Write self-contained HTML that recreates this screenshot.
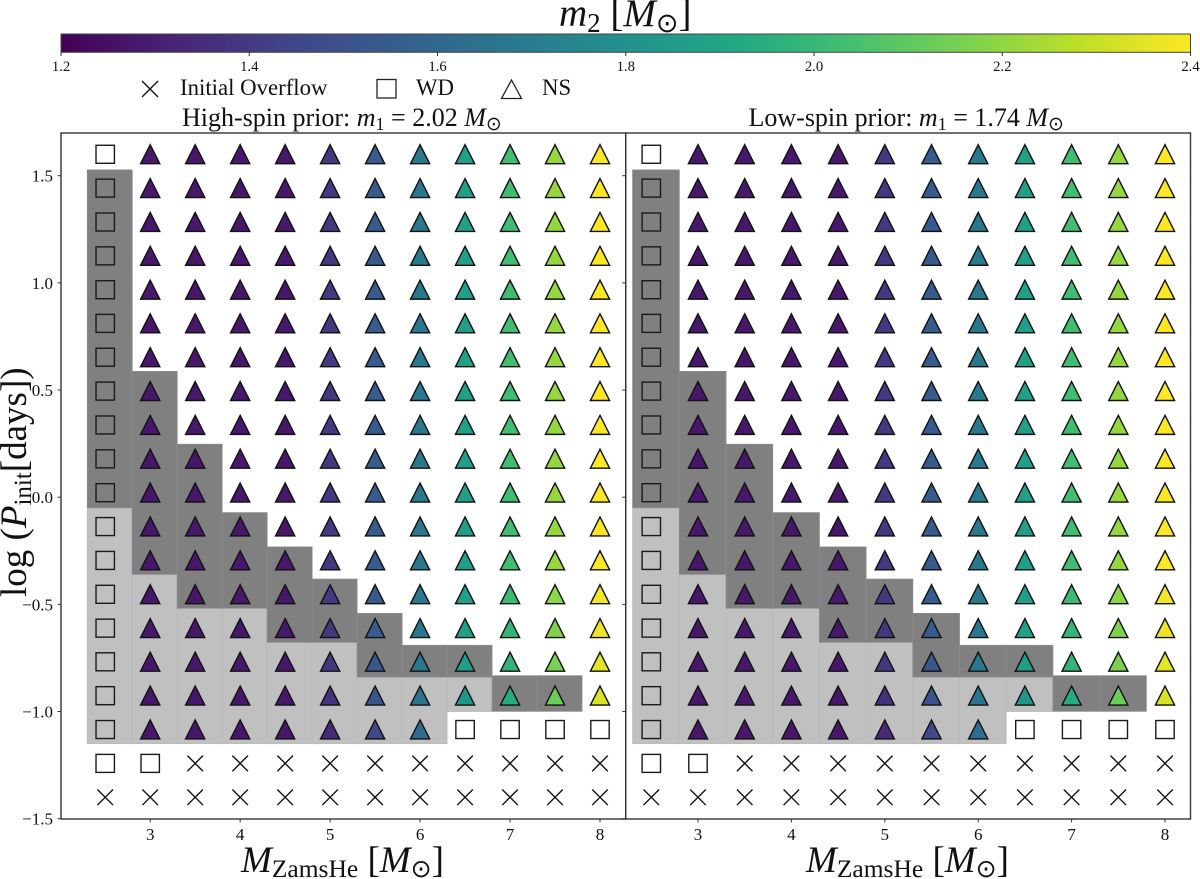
<!DOCTYPE html>
<html lang="en">
<head>
<meta charset="utf-8">
<title>Compact object outcomes</title>
<style>
html,body{margin:0;padding:0;background:#fff;width:1200px;height:879px;overflow:hidden}
svg{display:block}
text{font-family:"Liberation Serif","DejaVu Serif",serif;fill:#111}
.odot{font-family:"DejaVu Sans",sans-serif;font-style:normal}
</style>
</head>
<body>
<svg id="chart" width="1200" height="879" viewBox="0 0 1200 879" xmlns="http://www.w3.org/2000/svg">
  <defs>
    <linearGradient id="viridis" x1="0" x2="1" y1="0" y2="0"></linearGradient>
  </defs>
  <g id="colorbar">
    <rect x="61" y="34" width="1129.5" height="18.3" fill="url(#viridis)" stroke="#444" stroke-width="1"/>
  </g>
  <text x="559" y="26" font-size="39"><tspan font-style="italic">m</tspan><tspan font-size="27" dy="6">2</tspan><tspan dy="-6"> [</tspan><tspan font-style="italic">M</tspan><tspan class="odot" font-size="27" dy="6">⊙</tspan><tspan dy="-6">]</tspan></text>

  <g>
    <path d="M142 81 L158 97 M158 81 L142 97" stroke="#111" stroke-width="1.4" fill="none"/>
    <text x="180" y="95" font-size="22.8">Initial Overflow</text>
    <rect x="377" y="79.5" width="19" height="18.5" fill="none" stroke="#222" stroke-width="1.3"/>
    <text x="416" y="95" font-size="22.8">WD</text>
    <path d="M511.5 80 L521.5 98.5 L501.5 98.5 Z" fill="none" stroke="#222" stroke-width="1.3"/>
    <text x="542" y="95" font-size="22.8">NS</text>
  </g>

  <text x="182" y="126" font-size="26">High-spin prior: <tspan font-style="italic">m</tspan><tspan font-size="18" dy="4">1</tspan><tspan dy="-4"> = 2.02 </tspan><tspan font-style="italic">M</tspan><tspan class="odot" font-size="19" dy="4">⊙</tspan></text>
  <text x="748.5" y="126" font-size="26">Low-spin prior: <tspan font-style="italic">m</tspan><tspan font-size="18" dy="4">1</tspan><tspan dy="-4"> = 1.74 </tspan><tspan font-style="italic">M</tspan><tspan class="odot" font-size="19" dy="4">⊙</tspan></text>

  <g id="panel-left"></g>
  <g id="panel-right"></g>

  <text transform="translate(26,597) rotate(-90)" font-size="37">log (<tspan font-style="italic">P</tspan><tspan font-size="25" dy="5">init</tspan><tspan dy="-5">[days])</tspan></text>
  <text x="241" y="872" font-size="37"><tspan font-style="italic">M</tspan><tspan font-size="25.5" dy="5">ZamsHe</tspan><tspan dy="-5"> [</tspan><tspan font-style="italic">M</tspan><tspan class="odot" font-size="25" dy="5">⊙</tspan><tspan dy="-5">]</tspan></text>
  <text x="806" y="872" font-size="37"><tspan font-style="italic">M</tspan><tspan font-size="25.5" dy="5">ZamsHe</tspan><tspan dy="-5"> [</tspan><tspan font-style="italic">M</tspan><tspan class="odot" font-size="25" dy="5">⊙</tspan><tspan dy="-5">]</tspan></text>
</svg>

<script>
// --- Data ---
const massColumns = [2.5, 3, 3.5, 4, 4.5, 5, 5.5, 6, 6.5, 7, 7.5, 8];
const logPRows = [-1.4, -1.242, -1.084, -0.926, -0.768, -0.611, -0.453, -0.295, -0.137, 0.021,
                  0.179, 0.337, 0.495, 0.653, 0.811, 0.968, 1.126, 1.284, 1.442, 1.6];
// Outcome per row (bottom to top), per column: X overflow, W white dwarf, N neutron star
const outcomeRows = [
  "XXXXXXXXXXXX","WWXXXXXXXXXX","WNNNNNNNWWWW","WNNNNNNNNNNN","WNNNNNNNNNNN",
  "WNNNNNNNNNNN","WNNNNNNNNNNN","WNNNNNNNNNNN","WNNNNNNNNNNN","WNNNNNNNNNNN",
  "WNNNNNNNNNNN","WNNNNNNNNNNN","WNNNNNNNNNNN","WNNNNNNNNNNN","WNNNNNNNNNNN",
  "WNNNNNNNNNNN","WNNNNNNNNNNN","WNNNNNNNNNNN","WNNNNNNNNNNN","WNNNNNNNNNNN"
];
// Companion mass by row index (bottom to top) and column; null where no NS marker
const m2Rows = [
  [null,null,null,null,null,null,null,null,null,null,null,null],
  [null,null,null,null,null,null,null,null,null,null,null,null],
  [null,1.28,1.28,1.28,1.28,1.34,1.46,1.62,null,null,null,null],
  [null,1.28,1.28,1.28,1.28,1.37,1.51,1.66,1.83,1.93,2.13,2.33],
  [null,1.28,1.28,1.28,1.28,1.39,1.53,1.68,1.87,1.98,2.16,2.35],
  [null,1.28,1.28,1.28,1.28,1.39,1.54,1.68,1.88,1.99,2.17,2.37],
  [null,1.28,1.28,1.28,1.28,1.40,1.54,1.68,1.88,2.01,2.19,2.38],
  [null,1.28,1.28,1.28,1.28,1.40,1.54,1.68,1.88,2.03,2.21,2.40],
  [null,1.28,1.28,1.28,1.28,1.40,1.54,1.68,1.88,2.03,2.21,2.40],
  [null,1.28,1.28,1.28,1.28,1.40,1.54,1.68,1.88,2.03,2.21,2.40],
  [null,1.28,1.28,1.28,1.28,1.40,1.54,1.68,1.88,2.03,2.21,2.40],
  [null,1.28,1.28,1.28,1.28,1.40,1.54,1.68,1.88,2.03,2.21,2.40],
  [null,1.28,1.28,1.28,1.28,1.40,1.54,1.68,1.88,2.03,2.21,2.40],
  [null,1.28,1.28,1.28,1.28,1.40,1.54,1.68,1.88,2.03,2.21,2.40],
  [null,1.28,1.28,1.28,1.28,1.40,1.54,1.68,1.88,2.03,2.21,2.40],
  [null,1.28,1.28,1.28,1.28,1.40,1.54,1.68,1.88,2.03,2.21,2.40],
  [null,1.28,1.28,1.28,1.28,1.40,1.54,1.68,1.88,2.03,2.21,2.40],
  [null,1.28,1.28,1.28,1.28,1.40,1.54,1.68,1.88,2.03,2.21,2.40],
  [null,1.28,1.28,1.28,1.28,1.40,1.54,1.68,1.88,2.03,2.21,2.40],
  [null,1.28,1.28,1.28,1.28,1.40,1.54,1.68,1.88,2.03,2.21,2.40]
];
// Shaded region limits per column in log P (null = none)
const darkTop    = [1.527, 0.587, 0.247, -0.072, -0.232, -0.382, -0.542, -0.691, -0.691, -0.833, -0.833, null];
const darkBottom = [-0.049, -0.36, -0.518, -0.518, -0.677, -0.677, -0.839, -0.839, -0.839, -0.999, -0.999, null];
const lightTop    = [-0.049, -0.36, -0.518, -0.518, -0.677, -0.677, -0.839, -0.839, -0.839, null, null, null];
const lightBottom = [-1.15, -1.15, -1.15, -1.15, -1.15, -1.15, -1.15, -1.15, -1.0, null, null, null];
const xTickValues = [3, 4, 5, 6, 7, 8];
const yTickValues = [-1.5, -1.0, -0.5, 0.0, 0.5, 1.0, 1.5];
const colorbarTicks = [1.2, 1.4, 1.6, 1.8, 2.0, 2.2, 2.4];
const m2Min = 1.2;
const m2Max = 2.4;
const viridisStops = ["#440154","#482475","#414487","#355f8d","#2a788e","#21918c","#22a884","#44bf70","#7ad151","#bddf26","#fde725"];

// --- Helpers ---
const NS = "http://www.w3.org/2000/svg";
function mk(parent, tag, attrs, text) {
  const el = document.createElementNS(NS, tag);
  for (const k in attrs) el.setAttribute(k, attrs[k]);
  if (text !== undefined) el.textContent = text;
  parent.appendChild(el);
  return el;
}
function hexToRgb(h) {
  return [parseInt(h.slice(1,3),16), parseInt(h.slice(3,5),16), parseInt(h.slice(5,7),16)];
}
function viridis(t) {
  t = Math.max(0, Math.min(1, t));
  const p = t * (viridisStops.length - 1);
  const i = Math.min(Math.floor(p), viridisStops.length - 2);
  const f = p - i;
  const a = hexToRgb(viridisStops[i]);
  const b = hexToRgb(viridisStops[i + 1]);
  const c = a.map((v, j) => Math.round(v + (b[j] - v) * f));
  return "rgb(" + c.join(",") + ")";
}
const colorOf = m => viridis((m - m2Min) / (m2Max - m2Min));
const yScale = v => 497.2 - 214.33 * v;
const fmtTick = v => (v < 0 ? "\u2212" : "") + Math.abs(v).toFixed(1);

// --- Colorbar ---
const grad = document.getElementById("viridis");
viridisStops.forEach((c, i) => {
  mk(grad, "stop", {offset: (i / (viridisStops.length - 1)), "stop-color": c});
});
const cbar = document.getElementById("colorbar");
const cbarX = m => 61 + (m - m2Min) / (m2Max - m2Min) * 1129.5;
colorbarTicks.forEach(m => {
  const tick = mk(cbar, "line", {x1: cbarX(m), x2: cbarX(m), y1: 52.3, y2: 56, stroke: "#333", "stroke-width": 1});
  
  
  const label = mk(cbar, "text", {x: cbarX(m), y: 71, "font-size": 14.7, "text-anchor": "middle"}, m.toFixed(1));
  
  
});

// --- Panels ---
function drawPanel(root, left, right, xAt3, xAt8, showYLabels) {
  const xScale = v => xAt3 + (v - 3) * (xAt8 - xAt3) / 5;
  const top = 133, bottom = 819;
  const cellW = xScale(3.5) - xScale(3);

  // light shading, then dark shading
  massColumns.forEach((m, i) => {
    if (lightTop[i] !== null) {
      const r = mk(root, "rect", {x: xScale(m - 0.2), y: yScale(lightTop[i]), width: cellW,
        height: yScale(lightBottom[i]) - yScale(lightTop[i]), fill: "#c0c0c0", stroke: "#bababa", "stroke-width": 0.8});
      
      
    }
  });
  massColumns.forEach((m, i) => {
    if (darkTop[i] !== null) {
      const r = mk(root, "rect", {x: xScale(m - 0.2), y: yScale(darkTop[i]), width: cellW,
        height: yScale(darkBottom[i]) - yScale(darkTop[i]), fill: "#808080", stroke: "#8c8c8c", "stroke-width": 0.8});
      
      
    }
  });

  // markers
  logPRows.forEach((lp, k) => {
    massColumns.forEach((m, i) => {
      const cx = xScale(m), cy = yScale(lp);
      const kind = outcomeRows[k][i];
      if (kind === "X") {
        const p = mk(root, "path", {d: `M${cx-7.8} ${cy-7.8} L${cx+7.8} ${cy+7.8} M${cx+7.8} ${cy-7.8} L${cx-7.8} ${cy+7.8}`,
          stroke: "#111", "stroke-width": 1.4, fill: "none"});
        
        
      } else if (kind === "W") {
        const s = mk(root, "rect", {x: cx - 9.2, y: cy - 9, width: 18.4, height: 18,
          fill: "none", stroke: "#1a1a1a", "stroke-width": 1.4});
        
        
      } else {
        const t = mk(root, "polygon", {points: `${cx},${cy-9.6} ${cx+9.6},${cy+9.4} ${cx-9.6},${cy+9.4}`,
          fill: colorOf(m2Rows[k][i]), stroke: "#111", "stroke-width": 1.4, "stroke-linejoin": "miter"});
        
        
      }
    });
  });

  // frame
  const frame = mk(root, "rect", {x: left, y: top, width: right - left, height: bottom - top,
    fill: "none", stroke: "#333", "stroke-width": 1.4});
  
  

  // ticks
  xTickValues.forEach(v => {
    const tick = mk(root, "line", {x1: xScale(v), x2: xScale(v), y1: bottom, y2: bottom + 3.5, stroke: "#333", "stroke-width": 1});
    
    
    const label = mk(root, "text", {x: xScale(v), y: 840, "font-size": 17, "text-anchor": "middle"}, String(v));
    
    
  });
  yTickValues.forEach(v => {
    const tick = mk(root, "line", {x1: left - 3.5, x2: left, y1: yScale(v), y2: yScale(v), stroke: "#333", "stroke-width": 1});
    
    
    if (showYLabels) {
      const label = mk(root, "text", {x: left - 8, y: yScale(v) + 6, "font-size": 17, "text-anchor": "end"}, fmtTick(v));
      
      
    }
  });
}
drawPanel(document.getElementById("panel-left"), 61, 625.7, 150.2, 600, true);
drawPanel(document.getElementById("panel-right"), 625.7, 1190.5, 698, 1165, false);
</script>
</body>
</html>
